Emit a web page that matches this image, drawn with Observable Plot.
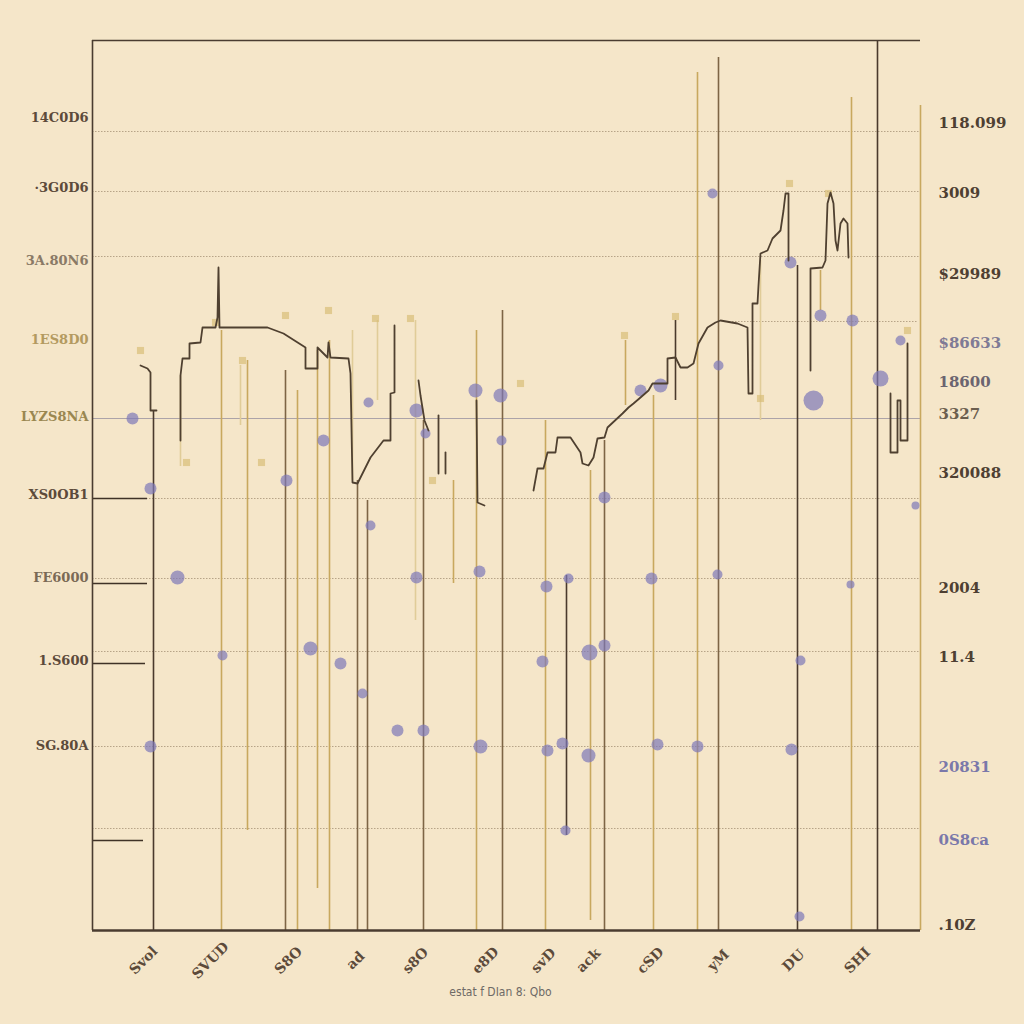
<!DOCTYPE html>
<html>
<head>
<meta charset="utf-8">
<script src="https://cdn.jsdelivr.net/npm/d3@7"></script>
<script src="https://cdn.jsdelivr.net/npm/@observablehq/plot@0.6"></script>
<style>
  html, body { margin: 0; padding: 0; background: #f5e6c9; }
  #chart { width: 1024px; height: 1024px; }
</style>
</head>
<body>
<div id="chart"></div>
<script>
// ---- data (abstract units) ----
const leftTickValues = [813, 743, 670, 591, 514, 436, 353, 270, 185];
const leftTickLabels = ["14C0D6", "·3G0D6", "3A.80N6", "1ES8D0", "LYZS8NA", "XS0OB1", "FE6000", "1.S600", "SG.80A"];
const leftTickColors = ["#5c4a3a", "#5c4a3a", "#8a7a66", "#b39a60", "#9a8750", "#5c4a3a", "#7a6a55", "#5c4a3a", "#5c4a3a"];

const rightTickValues = [807, 737, 656, 587, 548, 516, 457, 342, 273, 163, 90, 5];
const rightTickLabels = ["118.099", "3009", "$29989", "$86633", "18600", "3327", "320088", "2004", "11.4", "20831", "0S8ca", ".10Z"];
const rightTickColors = ["#4e3f32", "#4e3f32", "#4e3f32", "#7f7a95", "#6b6470", "#6b5e4e", "#4e3f32", "#4e3f32", "#4e3f32", "#7a78aa", "#7a78aa", "#4e3f32"];

const xTickValues = [51, 118, 196, 263, 323, 393, 451, 496, 558, 626, 701, 765];
const xTickLabels = ["Svol", "SVUD", "S8O", "ad", "s8O", "e8D", "svD", "ack", "cSD", "yM", "DU", "SHI"];
const xTitle = "estat f DIan 8: Qbo";

const gridValues = [799, 739, 674, 432, 352, 279, 184, 102];
const solidGrid = [512];
const partialGrid = [{y: 609, from: 640, to: 826}];
const leftStubs = [{y: 432, to: 55}, {y: 347, to: 55}, {y: 267, to: 53}, {y: 90, to: 51}];

// step-line traces: [series, x, y]
const traceSeries = [
  ["A",48,565],["A",55,562],["A",58,558],["A",58,520],["A",64,520],
  ["B",88,490],["B",88,555],["B",90,572],["B",97,572],["B",97,587],["B",108,588],["B",110,603],["B",123,603],["B",125,613],["B",126,663],["B",127,603],["B",175,603],["B",191,597],["B",213,583],["B",213,562],["B",225,562],["B",225,583],["B",235,573],["B",236,588],["B",238,573],["B",256,572],["B",258,557],["B",260,448],["B",265,447],["B",278,473],["B",291,490],["B",298,490],["B",298,537],["B",302,538],["B",302,605],
  ["C",326,550],["C",328,535],["C",332,510],["C",336,500],
  ["D",346,515],["D",346,457],
  ["E",353,478],["E",353,457],
  ["F",384,530],["F",385,428],["F",392,425],
  ["G",441,440],["G",445,462],["G",451,462],["G",455,478],["G",463,478],["G",465,493],["G",478,493],["G",488,478],["G",490,467],["G",496,465],["G",501,473],["G",505,492],["G",512,493],["G",515,503],["G",530,517],["G",536,523],["G",541,527],["G",548,533],["G",556,540],["G",560,547],["G",575,547],["G",575,572],["G",583,573],["G",588,563],["G",595,563],["G",601,567],["G",606,587],["G",615,603],["G",623,608],["G",628,610],["G",645,607],["G",655,603],["G",656,537],["G",660,537],["G",660,627],["G",665,627],["G",666,645],["G",668,677],["G",675,680],["G",680,692],["G",688,700],["G",691,720],["G",693,737],["G",696,737],["G",696,670],
  ["H",718,560],["H",718,662],["H",730,663],["H",733,670],["H",735,727],["H",738,738],["H",741,727],["H",743,690],["H",745,680],["H",748,707],["H",751,712],["H",755,707],["H",756,673],
  ["I",798,537],["I",798,478],["I",805,478],["I",805,530],["I",808,530],["I",808,490],["I",815,490],["I",815,587]
];

// vertical rules: [x, bottom, top, tone]
const ruleList = [
  [61,0,520,"dark"],[88,464,555,"pale"],[129,0,600,"tan"],[148,505,565,"pale"],[155,100,570,"tan"],
  [193,0,560,"brown"],[205,0,540,"tan"],[225,42,580,"tan"],[237,0,590,"tan"],[260,600,450,"pale"],
  [265,0,450,"brown"],[275,0,430,"brown"],[285,530,610,"pale"],[323,310,610,"pale"],[331,0,510,"brown"],
  [361,347,450,"tan"],[384,0,600,"tan"],[410,0,620,"brown"],[453,0,510,"tan"],[474,95,355,"dark"],
  [498,10,460,"tan"],[512,0,490,"brown"],[533,525,590,"tan"],[561,0,535,"tan"],[583,530,610,"dark"],
  [605,0,858,"tan"],[626,0,873,"brown"],[668,510,670,"pale"],[705,0,665,"dark"],[728,620,660,"tan"],
  [759,0,833,"tan"],[785,0,890,"dark"],[828,0,825,"tan"]
];
const ruleColors = {dark: "#4a3a2c", brown: "#7d6545", tan: "#c8a85e", pale: "#e0cc98"};

// purple blots: [x, y, radius]
const blots = [
  [40,512,6],[58,442,6],[85,353,7],[130,275,5],[194,450,6],[218,282,7],[231,490,6],[248,267,6],[270,237,5],
  [276,528,5],[278,405,5],[324,520,7],[324,353,6],[305,200,6],[331,200,6],[333,497,5],[383,540,7],
  [387,359,6],[388,184,7],[408,535,7],[409,490,5],[454,344,6],[476,352,5],[450,269,6],[497,278,8],
  [512,285,6],[512,433,6],[455,180,6],[470,187,6],[496,175,7],[473,100,5],[559,352,6],[565,186,6],
  [605,184,6],[625,356,5],[620,737,5],[626,565,5],[698,668,6],[699,181,6],[708,270,5],[721,530,10],
  [728,615,6],[760,610,6],[788,552,8],[808,590,5],[823,425,4],[707,14,5],[758,346,4],[58,184,6],
  [568,545,7],[548,540,6]
];

// tan markers: [x, y]
const tanMarks = [
  [48,580],[123,608],[193,615],[236,620],[283,612],[318,612],[428,547],[532,595],[583,614],[697,747],
  [668,532],[94,468],[169,468],[340,450],[150,570],[736,737],[815,600]
];

// ---- build rows ----
const traces = traceSeries.map(([s, x, y]) => ({s, x, y}));
const rules = ruleList.map(([x, y1, y2, tone]) => ({x, y1, y2, c: ruleColors[tone]}));
const blotRows = blots.map(([x, y, r]) => ({x, y, r}));
const tanRows = tanMarks.map(([x, y]) => ({x, y}));
const leftRows = leftTickValues.map((y, i) => ({y, t: leftTickLabels[i], c: leftTickColors[i]}));
const rightRows = rightTickValues.map((y, i) => ({y, t: rightTickLabels[i], c: rightTickColors[i]}));
const xRows = xTickValues.map((x, i) => ({x, t: xTickLabels[i]}));

const chart = Plot.plot({
  width: 1024,
  height: 1024,
  marginLeft: 92,
  marginRight: 104,
  marginTop: 40,
  marginBottom: 94,
  style: {background: "#f5e6c9", fontFamily: "DejaVu Serif"},
  x: {domain: [0, 828], axis: null},
  y: {domain: [0, 890], axis: null},
  r: {type: "identity"},
  marks: [
    Plot.ruleY(gridValues, {stroke: "#a89478", strokeWidth: 1, strokeDasharray: "1.5,1.5", strokeOpacity: 0.8}),
    Plot.ruleY(solidGrid, {stroke: "#9a92a0", strokeWidth: 1, strokeOpacity: 0.8}),
    Plot.ruleY(partialGrid, {y: "y", x1: "from", x2: "to", stroke: "#a89478", strokeDasharray: "1.5,1.5", strokeOpacity: 0.8}),
    Plot.ruleX(rules, {x: "x", y1: "y1", y2: "y2", stroke: "c", strokeWidth: 1.6}),
    Plot.dot(tanRows, {x: "x", y: "y", r: 4, symbol: "square", fill: "#d9bd78", fillOpacity: 0.7}),
    Plot.dot(blotRows, {x: "x", y: "y", r: "r", fill: "#7d78b8", fillOpacity: 0.7}),
    Plot.line(traces, {x: "x", y: "y", z: "s", stroke: "#4f4030", strokeWidth: 1.8}),
    Plot.ruleY(leftStubs, {y: "y", x1: 0, x2: "to", stroke: "#3f3226", strokeWidth: 1.6}),
    Plot.ruleX([0], {stroke: "#4a3c30", strokeWidth: 1.6}),
    Plot.ruleY([0], {stroke: "#4a3c30", strokeWidth: 2.5}),
    Plot.ruleY([890], {stroke: "#4a3c30", strokeWidth: 1.4}),
    Plot.text(leftRows, {x: () => 0, y: "y", text: "t", fill: "c", textAnchor: "end", dx: -4, fontSize: 13, fontWeight: "bold"}),
    Plot.text(rightRows, {x: () => 828, y: "y", text: "t", fill: "c", textAnchor: "start", dx: 18, fontSize: 15, fontWeight: "bold"}),
    Plot.text(xRows, {x: "x", y: () => 0, text: "t", fill: "#5c4a3a", rotate: -45, dy: 30, fontSize: 14, fontWeight: "bold"}),
    Plot.text([xTitle], {x: () => 408, y: () => 0, text: d => d, dy: 62, fill: "#6e6a66", fontSize: 12, fontFamily: "Liberation Sans Narrow, DejaVu Sans Condensed, sans-serif"})
  ]
});
document.getElementById("chart").appendChild(chart);
</script>
</body>
</html>
